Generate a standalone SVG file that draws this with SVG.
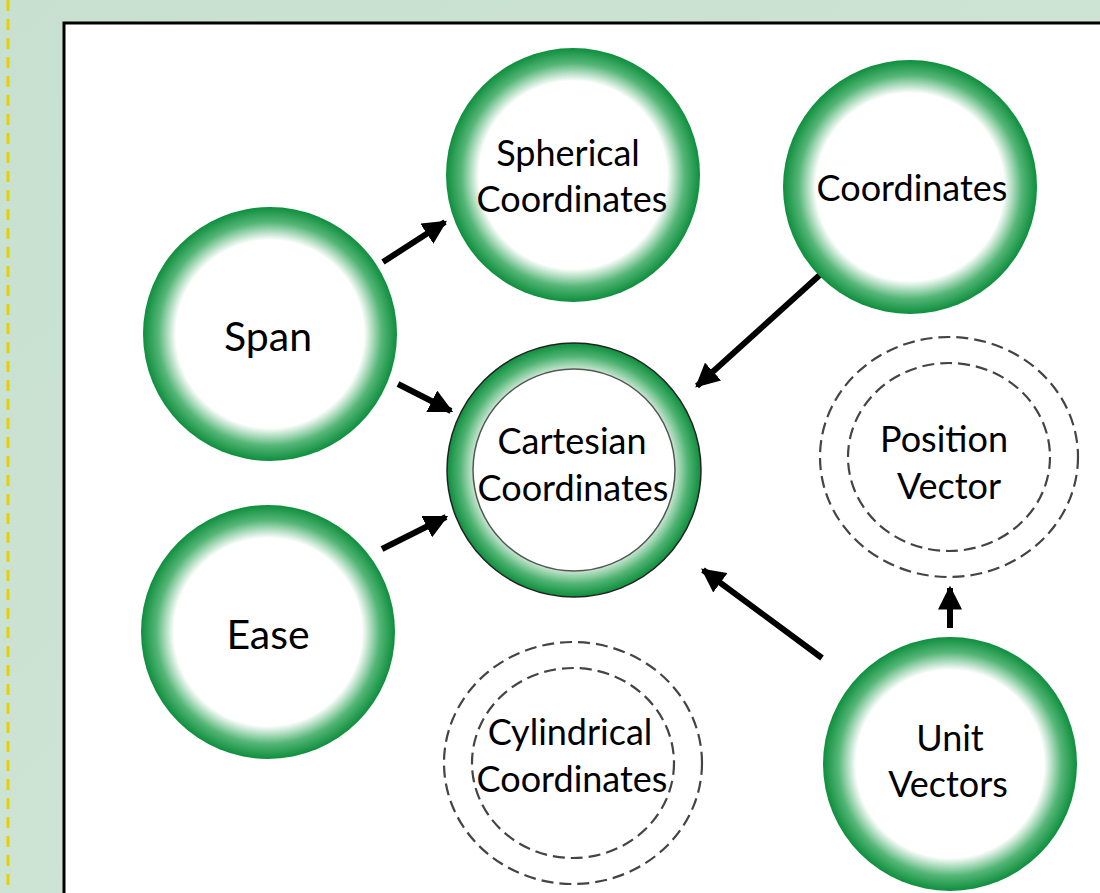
<svg xmlns="http://www.w3.org/2000/svg" width="1100" height="893" viewBox="0 0 1100 893">
<defs>
<linearGradient id="bg" x1="0" y1="0" x2="1" y2="1">
<stop offset="0" stop-color="#c7e0cf"/>
<stop offset="1" stop-color="#d3e7da"/>
</linearGradient>
<radialGradient id="ring" cx="0.5" cy="0.5" r="0.5">
<stop offset="0" stop-color="#ffffff"/>
<stop offset="0.74" stop-color="#ffffff"/>
<stop offset="0.88" stop-color="#55b677"/>
<stop offset="1" stop-color="#0e8e3d"/>
</radialGradient>
<radialGradient id="ringC" cx="0.5" cy="0.5" r="0.5">
<stop offset="0" stop-color="#ffffff"/>
<stop offset="0.78" stop-color="#d9efdf"/>
<stop offset="0.9" stop-color="#4fb372"/>
<stop offset="1" stop-color="#0e8e3d"/>
</radialGradient>
<marker id="ah" viewBox="0 0 10 10" refX="9" refY="5" markerWidth="4" markerHeight="4" orient="auto" markerUnits="strokeWidth">
<path d="M0,0 L10,5 L0,10 Z" fill="#000"/>
</marker>
<style>
.lbl{font-family:"Lato","Open Sans","Liberation Sans",sans-serif;font-size:36px;fill:#000;text-anchor:middle;dominant-baseline:central}
.big{font-size:41px}
.dash{fill:none;stroke:#444;stroke-width:2.2;stroke-dasharray:12 6}
.conn{stroke:#000;stroke-width:6;fill:none;marker-end:url(#ah)}
</style>
</defs>
<rect x="0" y="0" width="1100" height="893" fill="url(#bg)"/>
<line x1="8" y1="0" x2="8" y2="893" stroke="#e8d000" stroke-width="3" stroke-dasharray="11 8"/>
<rect x="64" y="23" width="1100" height="900" fill="#fff" stroke="#000" stroke-width="3"/>

<g id="connectors">
<line class="conn" x1="383" y1="262" x2="445" y2="222"/>
<line class="conn" x1="398" y1="384" x2="451" y2="411"/>
<line class="conn" x1="382" y1="549" x2="446" y2="517"/>
<line class="conn" x1="822" y1="273" x2="697" y2="386"/>
<line class="conn" x1="822" y1="658" x2="703" y2="570"/>
<line class="conn" x1="950" y1="628" x2="950" y2="588"/>
</g>

<g id="spherical">
<circle cx="573" cy="175" r="127" fill="url(#ring)"/>
<text class="lbl" x="568" y="152">Spherical</text>
<text class="lbl" x="572" y="198">Coordinates</text>
</g>
<g id="coordinates">
<circle cx="910" cy="187" r="127" fill="url(#ring)"/>
<text class="lbl" x="912" y="187">Coordinates</text>
</g>
<g id="span">
<circle cx="270" cy="334" r="127" fill="url(#ring)"/>
<text class="lbl big" x="268" y="335">Span</text>
</g>
<g id="cartesian">
<circle cx="574" cy="470" r="127" fill="url(#ringC)" stroke="#222" stroke-width="1.5"/>
<circle cx="574" cy="470" r="101" fill="#fff" stroke="#555" stroke-width="1.5"/>
<text class="lbl" x="572" y="440">Cartesian</text>
<text class="lbl" x="573" y="487">Coordinates</text>
</g>
<g id="position-vector">
<ellipse class="dash" cx="949" cy="457" rx="129" ry="120"/>
<ellipse class="dash" cx="949" cy="457" rx="101" ry="94"/>
<text class="lbl" x="944" y="438">Position</text>
<text class="lbl" x="949" y="485">Vector</text>
</g>
<g id="ease">
<circle cx="268" cy="632" r="127" fill="url(#ring)"/>
<text class="lbl big" x="268" y="633">Ease</text>
</g>
<g id="cylindrical">
<ellipse class="dash" cx="573" cy="763" rx="129" ry="121"/>
<ellipse class="dash" cx="573" cy="763" rx="101" ry="95"/>
<text class="lbl" x="570" y="731">Cylindrical</text>
<text class="lbl" x="572" y="778">Coordinates</text>
</g>
<g id="unit-vectors">
<circle cx="950" cy="764" r="127" fill="url(#ring)"/>
<text class="lbl" x="950" y="737">Unit</text>
<text class="lbl" x="948" y="783">Vectors</text>
</g>
</svg>
